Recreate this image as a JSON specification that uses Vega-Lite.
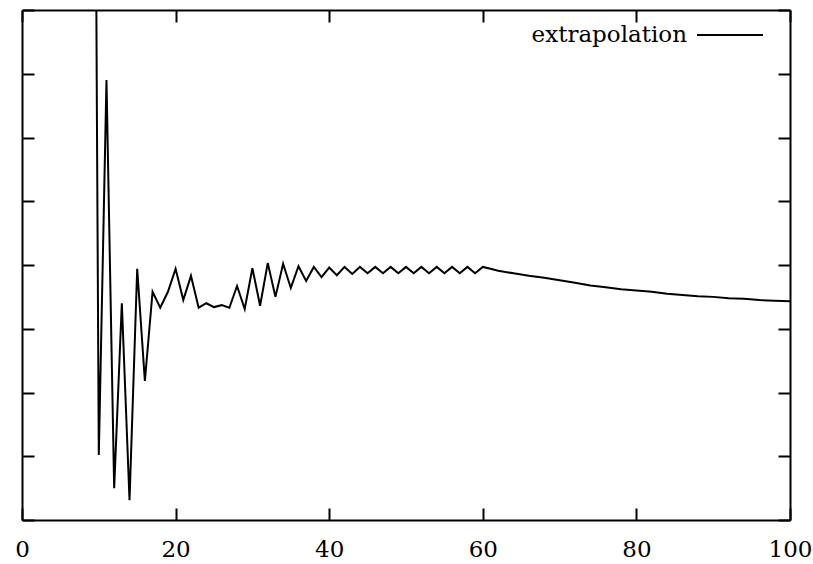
{
  "$schema": "https://vega.github.io/schema/vega-lite/v6.json",
  "width": 768,
  "height": 510,
  "autosize": {"type": "none"},
  "padding": {"left": 22, "top": 10, "right": 23, "bottom": 44},
  "background": "white",
  "config": {
    "view": {"stroke": null},
    "axis": {
      "domainColor": "black", "domainWidth": 2, "tickColor": "black", "tickWidth": 2,
      "tickSize": -12, "grid": false, "labelFont": "DejaVu Serif", "labelFontSize": 23,
      "labelColor": "black", "title": null
    }
  },
  "data": {"values": [
    {"x": 9.6, "y": 10}, {"x": 9.75, "y": 6.43}, {"x": 10, "y": 1.02},
    {"x": 11, "y": 6.9}, {"x": 12, "y": 0.5}, {"x": 13, "y": 3.4}, {"x": 14, "y": 0.31},
    {"x": 15, "y": 3.94}, {"x": 16, "y": 2.18}, {"x": 17, "y": 3.58}, {"x": 18, "y": 3.33},
    {"x": 19, "y": 3.58}, {"x": 20, "y": 3.94}, {"x": 21, "y": 3.45}, {"x": 22, "y": 3.83},
    {"x": 23, "y": 3.33}, {"x": 24, "y": 3.4}, {"x": 25, "y": 3.34}, {"x": 26, "y": 3.37},
    {"x": 27, "y": 3.33}, {"x": 28, "y": 3.67}, {"x": 29, "y": 3.31}, {"x": 30, "y": 3.95},
    {"x": 31, "y": 3.36}, {"x": 32, "y": 4.03}, {"x": 33, "y": 3.5}, {"x": 34, "y": 4.02},
    {"x": 35, "y": 3.64}, {"x": 36, "y": 3.98}, {"x": 37, "y": 3.75}, {"x": 38, "y": 3.97},
    {"x": 39, "y": 3.81}, {"x": 40, "y": 3.96}, {"x": 41, "y": 3.84}, {"x": 42, "y": 3.97},
    {"x": 43, "y": 3.86}, {"x": 44, "y": 3.97}, {"x": 45, "y": 3.87}, {"x": 46, "y": 3.97},
    {"x": 47, "y": 3.87}, {"x": 48, "y": 3.97}, {"x": 49, "y": 3.87}, {"x": 50, "y": 3.97},
    {"x": 51, "y": 3.87}, {"x": 52, "y": 3.97}, {"x": 53, "y": 3.87}, {"x": 54, "y": 3.97},
    {"x": 55, "y": 3.87}, {"x": 56, "y": 3.97}, {"x": 57, "y": 3.87}, {"x": 58, "y": 3.97},
    {"x": 59, "y": 3.87}, {"x": 60, "y": 3.97}, {"x": 61, "y": 3.94}, {"x": 62, "y": 3.91},
    {"x": 64, "y": 3.87}, {"x": 66, "y": 3.83}, {"x": 68, "y": 3.8}, {"x": 70, "y": 3.76},
    {"x": 72, "y": 3.72}, {"x": 74, "y": 3.68}, {"x": 76, "y": 3.65}, {"x": 78, "y": 3.62},
    {"x": 80, "y": 3.6}, {"x": 82, "y": 3.58}, {"x": 84, "y": 3.55}, {"x": 86, "y": 3.53},
    {"x": 88, "y": 3.51}, {"x": 90, "y": 3.5}, {"x": 92, "y": 3.48}, {"x": 94, "y": 3.47},
    {"x": 96, "y": 3.45}, {"x": 98, "y": 3.44}, {"x": 100, "y": 3.43}
  ]},
  "layer": [
    {
      "mark": {"type": "line", "clip": true, "strokeWidth": 2},
      "encoding": {
        "x": {"field": "x", "type": "quantitative", "scale": {"domain": [0, 100], "nice": false},
              "axis": {"orient": "bottom", "values": [0, 20, 40, 60, 80, 100], "labelPadding": 30, "labelFlush": false}},
        "y": {"field": "y", "type": "quantitative", "scale": {"domain": [0, 8], "nice": false},
              "axis": {"orient": "left", "values": [0, 1, 2, 3, 4, 5, 6, 7, 8], "labels": false}},
        "color": {"datum": "extrapolation", "type": "nominal",
                  "scale": {"range": ["black"]},
                  "legend": {"orient": "none", "legendX": 678, "legendY": -9, "title": null,
                             "symbolType": "stroke", "symbolSize": 4356, "symbolStrokeWidth": 2,
                             "symbolStrokeColor": "black", "labelFont": "DejaVu Serif", "labelFontSize": 23,
                             "labelColor": "black", "labelAlign": "right", "labelOffset": -77, "symbolOffset": -4,
                             "padding": 0, "labelLimit": 0}}
      }
    },
    {
      "mark": {"type": "point", "opacity": 0},
      "encoding": {
        "x": {"field": "x", "type": "quantitative",
              "axis": {"orient": "top", "values": [0, 20, 40, 60, 80, 100], "labels": false}},
        "y": {"field": "y", "type": "quantitative",
              "axis": {"orient": "right", "values": [0, 1, 2, 3, 4, 5, 6, 7, 8], "labels": false}}
      }
    }
  ],
  "resolve": {"axis": {"x": "independent", "y": "independent"}}
}
